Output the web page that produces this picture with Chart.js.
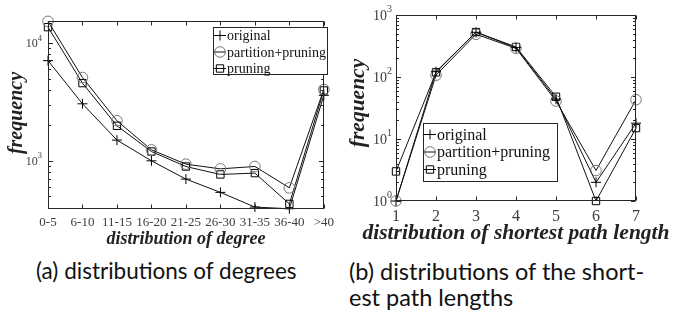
<!DOCTYPE html>
<html>
<head>
<meta charset="utf-8">
<script src="https://cdn.jsdelivr.net/npm/chart.js@4/dist/chart.umd.min.js"></script>
<style>
  html, body { margin: 0; padding: 0; background: #fff; }
  body { width: 675px; height: 311px; position: relative; overflow: hidden; }
  .box { position: absolute; top: 0; }
  #boxA { left: 0; width: 340px; height: 250px; }
  #boxB { left: 340px; width: 335px; height: 245px; }
  .cap { position: absolute; font-family: Lato, "Noto Sans", sans-serif; font-size: 22.5px; color: #111; line-height: 26px; white-space: nowrap; }
</style>
</head>
<body>
<div class="box" id="boxA"><canvas id="chartA"></canvas></div>
<div class="box" id="boxB"><canvas id="chartB"></canvas></div>
<div class="cap" style="left:36px; top:258px;">(a) distributions of degrees</div>
<div class="cap" style="left:349px; top:258px; font-size:23.5px;">(b) distributions of the short-<br>est path lengths</div>
<script>
  // ── Data ──────────────────────────────────────────
  const degreeLabels = ['0-5', '6-10', '11-15', '16-20', '21-25', '26-30', '31-35', '36-40', '>40'];
  const degOriginal  = [7100, 3050, 1500, 1000, 700, 540, 405, 392, 3600];
  const degPartition = [15300, 5100, 2190, 1240, 937, 855, 896, 590, 4040];
  const degPruning   = [13650, 4570, 1985, 1200, 895, 766, 787, 431, 3960];

  const pathLabels    = ['1', '2', '3', '4', '5', '6', '7'];
  const pathOriginal  = [1, 122, 526, 298, 44, 2, 18];
  const pathPartition = [1, 107, 489, 290, 41, 3.1, 43];
  const pathPruning   = [3, 119, 530, 305, 48, 1, 15];

  const seriesNames = ['original', 'partition+pruning', 'pruning'];
  const degYTicks = [1000, 10000];
  const pathYTicks = [1, 10, 100, 1000];

  const SERIF = '"Liberation Serif", "Times New Roman", serif';
  const AXIS = '#262626';
  const TICKTXT = '#3c3c3c';

  const markerStyles = [
    { pointStyle: 'cross', pointRadius: 5, pointBorderColor: '#000' },
    { pointStyle: 'circle', pointRadius: 5.3, pointBorderColor: '#777' },
    { pointStyle: 'rect', pointRadius: 5.2, pointBorderColor: '#000' }
  ];

  function makeSets(arrs) {
    return arrs.map((d, i) => ({
      label: seriesNames[i], data: d,
      borderColor: '#111', borderWidth: 1, tension: 0, clip: false,
      pointBackgroundColor: 'rgba(0,0,0,0)', pointBorderWidth: 1,
      ...markerStyles[i]
    }));
  }

  // ── Axis frame, ticks, titles, legend (MATLAB look) ──────────────
  const frame = {
    id: 'frame',
    afterDatasetsDraw(chart, args, o) {
      const { ctx, chartArea: a, scales: { x, y } } = chart;
      ctx.save();
      ctx.strokeStyle = AXIS; ctx.lineWidth = 1;
      const ln = (x1, y1, x2, y2) => { ctx.beginPath(); ctx.moveTo(x1, y1); ctx.lineTo(x2, y2); ctx.stroke(); };
      const L = Math.round(a.left) + 0.5, R = Math.round(a.right) - 0.5;
      const T = Math.round(a.top) + 0.5, B = Math.round(a.bottom) - 0.5;
      ctx.strokeRect(L, T, R - L, B - T);
      // x ticks
      x.ticks.forEach((t, i) => {
        const px = Math.round(x.getPixelForTick(i)) + 0.5;
        ln(px, B, px, B - 4); ln(px, T, px, T + 4);
      });
      // y ticks, major + minor
      const lo = Math.floor(Math.log10(y.min)), hi = Math.ceil(Math.log10(y.max));
      for (let e = lo; e <= hi; e++) {
        for (let m = 1; m <= 9; m++) {
          const v = m * Math.pow(10, e);
          if (v < y.min * 0.999 || v > y.max * 1.001) continue;
          const py = Math.round(y.getPixelForValue(v)) + 0.5;
          const len = m === 1 ? 4.5 : 2.5;
          ln(L, py, L + len, py); ln(R, py, R - len, py);
        }
      }
      // y tick labels 10^n
      ctx.fillStyle = TICKTXT;
      o.yTicks.forEach(v => {
        const py = y.getPixelForValue(v);
        const exp = String(Math.round(Math.log10(v)));
        ctx.font = o.supSize + 'px ' + SERIF;
        const ew = ctx.measureText(exp).width;
        const xr = a.left - o.yLabelGap;
        ctx.textAlign = 'right'; ctx.textBaseline = 'alphabetic';
        ctx.fillText(exp, xr, py - o.tickSize * 0.2);
        ctx.font = o.tickSize + 'px ' + SERIF;
        ctx.fillText('10', xr - ew, py + o.tickSize * 0.35);
      });
      // axis titles
      ctx.fillStyle = '#222';
      ctx.font = 'italic bold ' + o.xTitleSize + 'px ' + SERIF;
      ctx.textAlign = 'center'; ctx.textBaseline = 'middle';
      ctx.fillText(o.xTitle, (a.left + a.right) / 2, a.bottom + o.xTitleOff);
      ctx.save();
      ctx.translate(o.yTitleX, (a.top + a.bottom) / 2 + o.yTitleDy);
      ctx.rotate(-Math.PI / 2);
      ctx.font = 'italic bold ' + o.yTitleSize + 'px ' + SERIF;
      ctx.fillText('frequency', 0, 0);
      ctx.restore();
      // legend box
      const g = o.legend;
      ctx.fillStyle = '#fff';
      ctx.fillRect(g.x, g.y, g.w, g.h);
      ctx.strokeStyle = AXIS;
      ctx.strokeRect(g.x + 0.5, g.y + 0.5, g.w, g.h);
      chart.data.datasets.forEach((ds, i) => {
        const cy = g.y + g.first + i * g.row;
        const mx = g.x + 7;
        ctx.strokeStyle = '#111'; ctx.lineWidth = 1;
        ln(g.x + 1, cy, g.x + 13, cy);
        ctx.strokeStyle = ds.pointBorderColor;
        ctx.fillStyle = 'rgba(0,0,0,0)';
        Chart.helpers.drawPoint(ctx, { pointStyle: ds.pointStyle, radius: ds.pointRadius, rotation: 0, borderWidth: 1 }, mx, cy);
        ctx.fillStyle = '#111';
        ctx.font = g.size + 'px ' + SERIF;
        ctx.textAlign = 'left'; ctx.textBaseline = 'middle';
        ctx.fillText(ds.label, g.x + 14, cy + 1);
      });
      ctx.restore();
    }
  };

  function makeChart(id, labels, sets, ymin, ymax, pad, xH, yW, tickSize, tickPad, frameOpts) {
    return new Chart(document.getElementById(id), {
      type: 'line',
      data: { labels: labels, datasets: makeSets(sets) },
      plugins: [frame],
      options: {
        responsive: true, maintainAspectRatio: false, animation: false,
        layout: { padding: pad },
        plugins: { legend: { display: false }, tooltip: { enabled: false }, frame: frameOpts },
        scales: {
          x: {
            type: 'category', offset: false,
            grid: { display: false, drawTicks: false }, border: { display: false },
            ticks: { autoSkip: false, maxRotation: 0, padding: tickPad, color: TICKTXT, font: { family: SERIF, size: tickSize } },
            afterFit: s => { s.height = xH; }
          },
          y: {
            type: 'logarithmic', min: ymin, max: ymax,
            grid: { display: false, drawTicks: false }, border: { display: false },
            ticks: { display: false },
            afterFit: s => { s.width = yW; }
          }
        }
      }
    });
  }

  makeChart('chartA', degreeLabels, [degOriginal, degPartition, degPruning], 390, 15400,
    { top: 21, right: 7, left: 0, bottom: 0 }, 41, 48, 13, 6,
    { yTicks: degYTicks, tickSize: 12, supSize: 8.5, yLabelGap: 6, xTitle: 'distribution of degree', xTitleSize: 18, xTitleOff: 30,
      yTitleX: 17, yTitleDy: -2, yTitleSize: 20,
      legend: { x: 213, y: 27, w: 114, h: 47, first: 8.5, row: 16.5, size: 14 } });

  makeChart('chartB', pathLabels, [pathOriginal, pathPartition, pathPruning], 1, 1000,
    { top: 15, right: 39, left: 0, bottom: 0 }, 44, 56, 16, 6,
    { yTicks: pathYTicks, tickSize: 14, supSize: 10, yLabelGap: 4, xTitle: 'distribution of shortest path length', xTitleSize: 21.5, xTitleOff: 32,
      yTitleX: 18, yTitleDy: -5, yTitleSize: 21.5,
      legend: { x: 83, y: 123, w: 134, h: 58, first: 11.5, row: 17.5, size: 16 } });
</script>
</body>
</html>
